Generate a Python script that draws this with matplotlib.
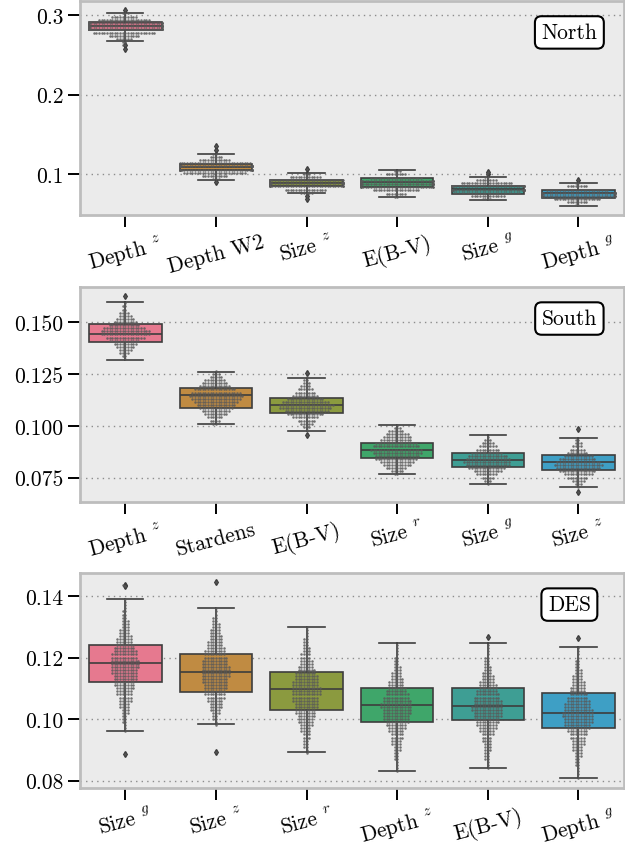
import numpy as np
import pandas as pd
import matplotlib
matplotlib.use("Agg")
import matplotlib.pyplot as plt
from matplotlib.ticker import FormatStrFormatter
import seaborn as sns

plt.rcParams['font.family'] = 'cmr10'
plt.rcParams['mathtext.fontset'] = 'cm'
plt.rcParams['axes.unicode_minus'] = False
plt.rcParams['axes.formatter.use_mathtext'] = True

# ---------------- North ----------------
north_labels = ["Depth ${}^{z}$", "Depth W2", "Size ${}^{z}$", "E(B-V)", "Size ${}^{g}$", "Depth ${}^{g}$"]
north_q1 = [0.2815, 0.1053, 0.0852, 0.0839, 0.0755, 0.0708]
north_med = [0.2860, 0.1095, 0.0890, 0.0902, 0.0818, 0.0765]
north_q3 = [0.2908, 0.1136, 0.0927, 0.0952, 0.0859, 0.0801]
north_lo = [0.2677, 0.0935, 0.0767, 0.0713, 0.0683, 0.0608]
north_hi = [0.3020, 0.1258, 0.1019, 0.1053, 0.0969, 0.0889]
north_fliers = [[0.2620, 0.2576, 0.3060], [0.0900, 0.1310, 0.1362], [0.0692, 0.0730, 0.1065],
                [], [0.1000, 0.1035], [0.0935]]
north_step = 0.004
north_start = [0.262, 0.094, 0.077, 0.072, 0.069, 0.061]
north_counts = [
    [1, 2, 6, 12, 24, 40, 44, 36, 20, 10, 3],
    [3, 10, 24, 38, 42, 28, 12, 5, 2],
    [5, 16, 34, 44, 30, 12, 3],
    [2, 8, 18, 32, 40, 36, 20, 8, 3],
    [4, 13, 26, 40, 36, 20, 8, 2],
    [2, 8, 18, 34, 40, 24, 8, 2],
]

# ---------------- South ----------------
south_labels = ["Depth ${}^{z}$", "Stardens", "E(B-V)", "Size ${}^{r}$", "Size ${}^{g}$", "Size ${}^{z}$"]
south_q1 = [0.1404, 0.1087, 0.1063, 0.0844, 0.0801, 0.0788]
south_med = [0.1444, 0.1146, 0.1098, 0.0881, 0.0836, 0.0823]
south_q3 = [0.1489, 0.1182, 0.1135, 0.0918, 0.0870, 0.0857]
south_lo = [0.1318, 0.1010, 0.0977, 0.0765, 0.0717, 0.0704]
south_hi = [0.1597, 0.1261, 0.1230, 0.1005, 0.0953, 0.0942]
south_fliers = [[0.1626], [], [0.0957, 0.1252], [], [], [0.0680, 0.0986]]
south_step = 0.0015
south_start = [0.1320, 0.1010, 0.0980, 0.0765, 0.0720, 0.0705]
south_counts = [
    [1, 2, 4, 5, 7, 9, 12, 15, 19, 19, 16, 12, 9, 7, 5, 4, 2, 2, 1],
    [2, 4, 6, 9, 11, 13, 15, 17, 19, 21, 19, 16, 12, 10, 8, 5, 3, 1],
    [1, 3, 5, 7, 10, 14, 17, 20, 21, 18, 14, 10, 8, 6, 4, 3, 2, 1],
    [2, 5, 8, 11, 13, 16, 17, 19, 20, 18, 16, 12, 11, 9, 6, 3, 1],
    [1, 3, 5, 8, 11, 14, 17, 18, 17, 15, 12, 9, 7, 5, 3, 1],
    [1, 3, 5, 8, 11, 14, 17, 19, 17, 14, 11, 8, 6, 4, 3, 2],
]

# ---------------- DES ----------------
des_labels = ["Size ${}^{g}$", "Size ${}^{z}$", "Size ${}^{r}$", "Depth ${}^{z}$", "E(B-V)", "Depth ${}^{g}$"]
des_q1 = [0.1119, 0.1088, 0.1029, 0.0990, 0.0996, 0.0971]
des_med = [0.1182, 0.1154, 0.1097, 0.1047, 0.1043, 0.1019]
des_q3 = [0.1241, 0.1211, 0.1152, 0.1101, 0.1101, 0.1086]
des_lo = [0.0962, 0.0983, 0.0892, 0.0832, 0.0840, 0.0810]
des_hi = [0.1392, 0.1360, 0.1301, 0.1247, 0.1247, 0.1233]
des_fliers = [[0.0886, 0.1432, 0.1437], [0.0892, 0.1445], [], [], [0.1268], [0.1263]]
des_step = 0.001
des_start = [0.096, 0.098, 0.089, 0.083, 0.084, 0.081]
des_counts = [
    [1, 1, 1, 2, 2, 2, 3, 3, 4, 4, 5, 5, 6, 6, 7, 8, 8, 9, 9, 10, 10, 11, 11, 11, 10, 10,
     9, 8, 7, 6, 6, 5, 4, 4, 3, 3, 3, 2, 2, 2, 1, 1, 1, 1],
    [1, 1, 2, 2, 3, 4, 5, 5, 6, 7, 8, 8, 9, 9, 10, 10, 11, 11, 11, 11, 10, 10, 9, 8, 8, 7,
     6, 6, 5, 5, 4, 4, 3, 3, 2, 2, 1, 1, 1],
    [1, 1, 2, 2, 2, 3, 3, 4, 4, 5, 6, 6, 7, 8, 8, 9, 9, 10, 10, 11, 11, 11, 10, 10, 9, 9,
     8, 7, 6, 5, 5, 4, 4, 3, 3, 2, 2, 2, 1, 1, 1, 1],
    [1, 1, 1, 1, 2, 2, 2, 3, 3, 4, 4, 5, 5, 6, 7, 8, 9, 10, 10, 11, 11, 12, 12, 11, 10, 9,
     8, 7, 6, 6, 5, 4, 4, 3, 3, 2, 2, 2, 1, 1, 1, 1],
    [1, 1, 1, 2, 2, 2, 3, 3, 3, 4, 4, 5, 6, 7, 8, 9, 10, 11, 11, 12, 12, 11, 11, 10, 9, 8,
     7, 7, 6, 5, 5, 4, 3, 3, 2, 2, 2, 1, 1, 1, 1],
    [1, 1, 1, 1, 2, 2, 2, 3, 3, 4, 4, 5, 5, 6, 7, 8, 9, 10, 11, 11, 12, 12, 11, 10, 10, 9,
     8, 7, 6, 6, 5, 5, 4, 4, 3, 3, 2, 2, 2, 1, 1, 1, 1],
]

colors = ['#e6798f', '#c08b42', '#8b9a3f', '#3fa66a', '#3e9e94', '#3e9fc5']
dark = "#3d3d3d"
fs = 15.5


def draw_panel(ax, labels, q1, med, q3, lo, hi, fliers, start, step, counts,
               ylim, yticks, fmt, name):
    stats = []
    for i in range(len(labels)):
        stats.append(dict(q1=q1[i], med=med[i], q3=q3[i], whislo=lo[i], whishi=hi[i],
                          fliers=fliers[i]))
    bp = ax.bxp(stats, positions=range(len(labels)), widths=0.8, patch_artist=True,
                boxprops=dict(edgecolor=dark, linewidth=1.2),
                medianprops=dict(color=dark, linewidth=1.2),
                whiskerprops=dict(color=dark, linewidth=1.2),
                capprops=dict(color=dark, linewidth=1.2),
                flierprops=dict(marker='d', markerfacecolor=dark, markeredgecolor=dark,
                                markersize=3))
    for patch, c in zip(bp['boxes'], colors):
        patch.set_facecolor(c)

    # swarm points
    vals, cats = [], []
    for i, lab in enumerate(labels):
        for j, n in enumerate(counts[i]):
            vals += [round(start[i] + j * step, 5)] * n
            cats += [lab] * n
        vals += fliers[i]
        cats += [lab] * len(fliers[i])
    df = pd.DataFrame({"cat": cats, "val": vals})
    sns.swarmplot(x="cat", y="val", data=df, order=labels, ax=ax, size=1.8,
                  color="0.35", alpha=0.85, zorder=3)

    ax.set_xlabel("")
    ax.set_ylabel("")
    ax.set_xlim(-0.5, len(labels) - 0.5)
    ax.set_xticks(range(len(labels)))
    ax.set_xticklabels(labels, rotation=15, ha="center")
    ax.set_ylim(*ylim)
    ax.set_yticks(yticks)
    ax.yaxis.set_major_formatter(FormatStrFormatter(fmt))
    ax.set_facecolor("#ebebeb")
    for sp in ax.spines.values():
        sp.set_color("#bdbdbd")
        sp.set_linewidth(2)
    ax.yaxis.grid(True, linestyle=(0, (1, 3)), color="0.55", linewidth=1)
    ax.set_axisbelow(True)
    ax.tick_params(axis="both", length=8.5, width=1.4, color="black", labelsize=fs)
    ax.text(0.9, 0.853, name, transform=ax.transAxes, ha="center", va="center",
            fontsize=fs, zorder=5,
            bbox=dict(boxstyle="round,pad=0.3", fc="white", ec="black", lw=1.5))


fig = plt.figure(figsize=(6.25, 8.54), dpi=100)
ax1 = fig.add_axes([0.128, 0.747, 0.870, 0.2507])
ax2 = fig.add_axes([0.128, 0.4114, 0.870, 0.2514])
ax3 = fig.add_axes([0.128, 0.0761, 0.870, 0.2518])

draw_panel(ax1, north_labels, north_q1, north_med, north_q3, north_lo, north_hi,
           north_fliers, north_start, north_step, north_counts,
           (0.049, 0.3176), [0.1, 0.2, 0.3], "%.1f", "North")
draw_panel(ax2, south_labels, south_q1, south_med, south_q3, south_lo, south_hi,
           south_fliers, south_start, south_step, south_counts,
           (0.0634, 0.1669), [0.075, 0.100, 0.125, 0.150], "%.3f", "South")
draw_panel(ax3, des_labels, des_q1, des_med, des_q3, des_lo, des_hi,
           des_fliers, des_start, des_step, des_counts,
           (0.0776, 0.1475), [0.08, 0.10, 0.12, 0.14], "%.2f", "DES")

fig.savefig("out.png", dpi=100)
